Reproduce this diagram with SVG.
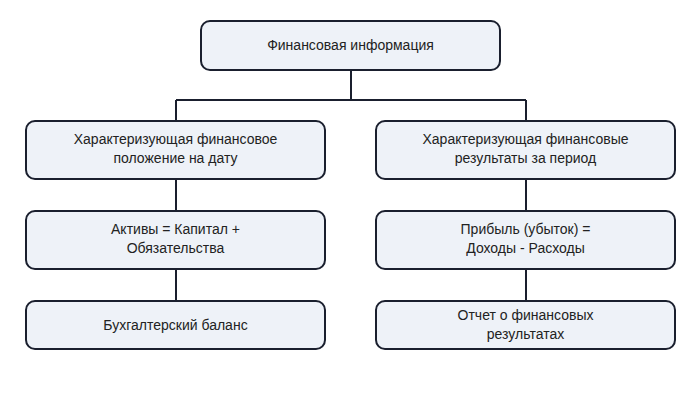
<svg xmlns="http://www.w3.org/2000/svg" width="700" height="400" viewBox="0 0 700 400">
<style>
.b{fill:#eef2f8;stroke:#1a1f2e;stroke-width:2}
.t{font-family:"Liberation Sans",Arial,sans-serif;font-size:14px;fill:#222;text-anchor:middle}
.c{stroke:#1a1f2e;stroke-width:2;fill:none}
</style>
<rect width="700" height="400" fill="#fff"/>
<g id="connectors">
<path class="c" d="M351 70V100M176 100H526M176 100V121M526 100V121M176 179V211M526 179V211M176 269V301M526 269V301"/>
</g>
<g id="n0"><rect class="b" x="201" y="21" width="299" height="49" rx="9"/><text class="t" x="350.5" y="50">Финансовая информация</text></g>
<g id="n1"><rect class="b" x="26" y="121" width="299" height="58" rx="9"/><text class="t" x="175.5" y="144">Характеризующая финансовое</text><text class="t" x="175.5" y="163">положение на дату</text></g>
<g id="n2"><rect class="b" x="376" y="121" width="299" height="58" rx="9"/><text class="t" x="525.5" y="144">Характеризующая финансовые</text><text class="t" x="525.5" y="163">результаты за период</text></g>
<g id="n3"><rect class="b" x="26" y="211" width="299" height="58" rx="9"/><text class="t" x="175.5" y="234">Активы = Капитал +</text><text class="t" x="175.5" y="253">Обязательства</text></g>
<g id="n4"><rect class="b" x="376" y="211" width="299" height="58" rx="9"/><text class="t" x="525.5" y="234">Прибыль (убыток) =</text><text class="t" x="525.5" y="253">Доходы - Расходы</text></g>
<g id="n5"><rect class="b" x="26" y="301" width="299" height="48" rx="9"/><text class="t" x="175.5" y="330">Бухгалтерский баланс</text></g>
<g id="n6"><rect class="b" x="376" y="301" width="299" height="48" rx="9"/><text class="t" x="525.5" y="320">Отчет о финансовых</text><text class="t" x="525.5" y="339">результатах</text></g>
</svg>
